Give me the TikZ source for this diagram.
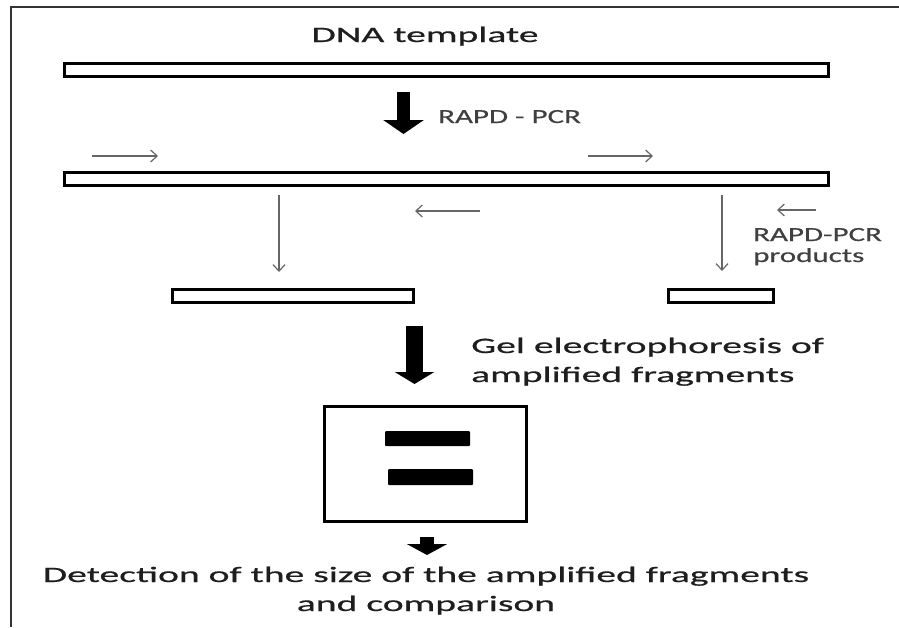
\documentclass[tikz,border=0pt]{standalone}
\usepackage{fontspec}
\usetikzlibrary{arrows.meta}
\newfontfamily\mainfam[FakeStretch=1.8,FakeBold=0.6]{Carlito}
\newfontfamily\labfam[FakeStretch=1.55,FakeBold=0.4]{Carlito}
\definecolor{txtdark}{HTML}{1E1E1E}
\definecolor{txtgray}{HTML}{404040}
\definecolor{primer}{HTML}{666666}
\definecolor{framec}{HTML}{333333}
\tikzset{
  bar/.style={draw=black, line width=3pt, fill=white, inner sep=0pt, minimum height=13pt},
  band/.style={fill=black, draw=none, rounded corners=1pt, inner sep=0pt},
  gelbox/.style={draw=black, line width=3pt, inner sep=0pt},
  maintext/.style={inner sep=0pt, text=txtdark, font=\mainfam\fontsize{22}{26}\selectfont},
  labtext/.style={inner sep=0pt, text=txtgray, font=\labfam\fontsize{20}{24}\selectfont},
  primerarrow/.style={draw=primer, line width=1.2pt, -{Straight Barb[length=6.5pt,width=12pt]}},
}
\begin{document}
\begin{tikzpicture}[x=1pt,y=-1pt]
\useasboundingbox (0,0) rectangle (899,627);
\fill[white] (0,0) rectangle (899,627);
% frame
\draw[framec, line width=1.6pt] (11,627) -- (11,7) -- (899,7);

% texts
\node[maintext, anchor=base] (title) at (425,42) {DNA template};
\node[labtext, anchor=base west] (rapd) at (438,123) {RAPD - PCR};
\node[labtext, anchor=base west] (prodA) at (753,241) {RAPD-PCR};
\node[labtext, anchor=base west] (prodB) at (753,262) {products};
\node[maintext, anchor=base west] (gelA) at (471,353) {Gel electrophoresis of};
\node[maintext, anchor=base west] (gelB) at (471,382) {amplified fragments};
\node[maintext, anchor=base] (detA) at (426,582) {Detection of the size of the amplified fragments};
\node[maintext, anchor=base] (detB) at (426,611) {and comparison};

% bars
\node[bar, minimum width=764pt] (bar1) at (446.5,70) {};
\node[bar, minimum width=764pt] (bar2) at (446.5,179) {};
\node[bar, minimum width=241pt] (prodL) at (293,296) {};
\node[bar, minimum width=105pt] (prodR) at (721,296) {};

% gel
\node[gelbox, minimum width=202pt, minimum height=115pt] (gel) at (425.5,464) {};
\node[band, minimum width=85pt, minimum height=15pt] (band1) at (427.5,438.5) {};
\node[band, minimum width=85pt, minimum height=16pt] (band2) at (430.5,477) {};

% big arrows
\coordinate (a1s) at (403.5,92);  \coordinate (a1e) at (403.5,134);
\coordinate (a2s) at (414.5,326); \coordinate (a2e) at (414.5,384);
\coordinate (a3s) at (427,537);   \coordinate (a3e) at (427,555);
\draw[line width=13pt, -{Triangle[length=14pt,width=40pt]}] (a1s) -- (a1e);
\draw[line width=17pt, -{Triangle[length=12pt,width=39pt]}] (a2s) -- (a2e);
\draw[line width=14pt, -{Triangle[length=11pt,width=40pt]}] (a3s) -- (a3e);

% primer arrows
\coordinate (p1s) at (92,156);  \coordinate (p1e) at (158,156);
\coordinate (p2s) at (588,156); \coordinate (p2e) at (653,156);
\coordinate (p3s) at (480,211); \coordinate (p3e) at (415,211);
\coordinate (p4s) at (816,210); \coordinate (p4e) at (777,210);
\draw[primerarrow] (p1s) -- (p1e);
\draw[primerarrow] (p2s) -- (p2e);
\draw[primerarrow] (p3s) -- (p3e);
\draw[primerarrow] (p4s) -- (p4e);

% product arrows
\coordinate (d1s) at (279,195); \coordinate (d1e) at (279,272);
\coordinate (d2s) at (722,195); \coordinate (d2e) at (722,271);
\draw[primerarrow] (d1s) -- (d1e);
\draw[primerarrow] (d2s) -- (d2e);
\end{tikzpicture}
\end{document}
